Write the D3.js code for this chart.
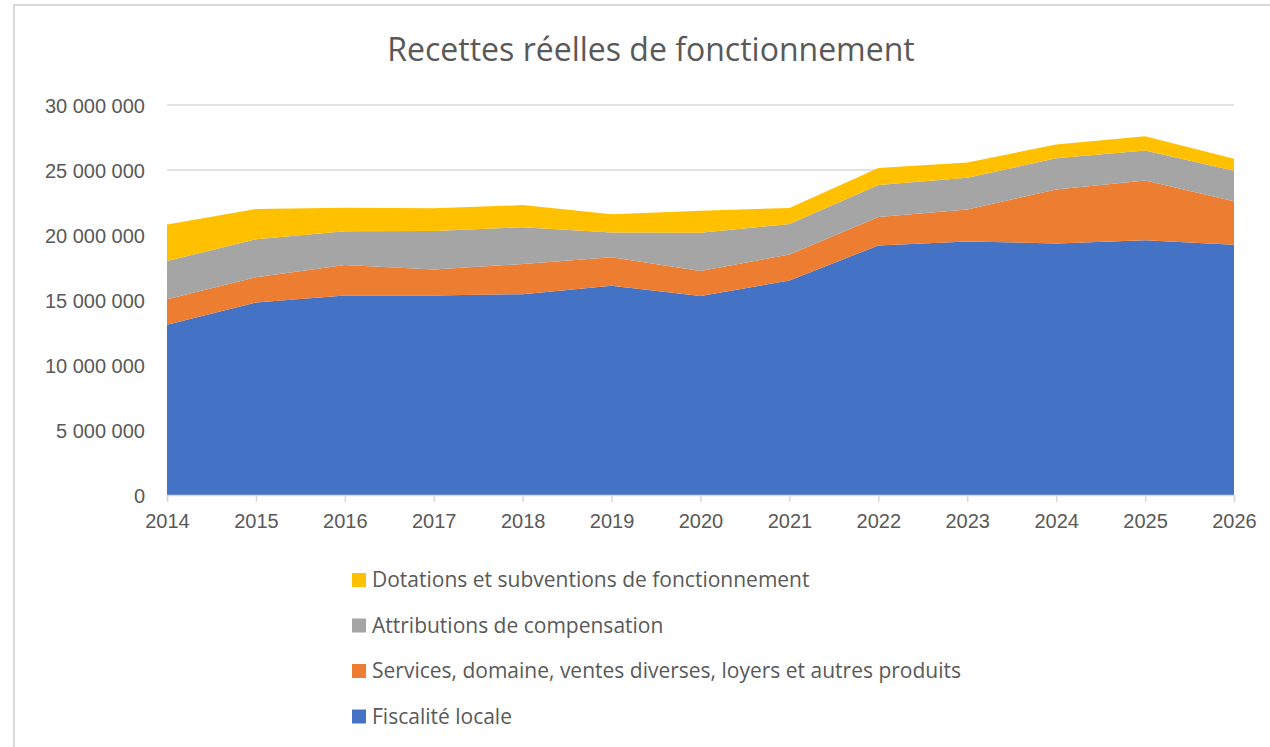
<!DOCTYPE html>
<html>
<head>
<meta charset="utf-8">
<script src="https://cdn.jsdelivr.net/npm/d3@7"></script>
<style>
  body { margin: 0; background: #fff; }
  svg { display: block; font-family: "Open Sans", sans-serif; }
  .grid line { stroke: #d9d9d9; stroke-width: 1.5; }
  .axis text { fill: #595959; font-size: 20px; }
  .legend text { fill: #595959; font-size: 21px; }
</style>
</head>
<body>
<svg id="chart" width="1270" height="747"></svg>
<script>
/* ── Data ─────────────────────────────────────────────── */
const years = [2014, 2015, 2016, 2017, 2018, 2019, 2020, 2021, 2022, 2023, 2024, 2025, 2026];

const fiscalite    = [13100000, 14800000, 15350000, 15350000, 15450000, 16100000, 15300000, 16500000, 19200000, 19500000, 19350000, 19600000, 19250000];
const services     = [1950000, 1950000, 2350000, 2000000, 2320000, 2180000, 1930000, 2000000, 2180000, 2470000, 4150000, 4600000, 3350000];
const attributions = [2950000, 2920000, 2580000, 2950000, 2830000, 1920000, 2950000, 2350000, 2470000, 2430000, 2400000, 2300000, 2350000];
const dotations    = [2800000, 2330000, 1820000, 1750000, 1700000, 1400000, 1690000, 1230000, 1300000, 1170000, 1070000, 1100000, 920000];

const seriesKeys   = ['fiscalite', 'services', 'attributions', 'dotations'];
const seriesNames  = ['Fiscalité locale', 'Services, domaine, ventes diverses, loyers et autres produits', 'Attributions de compensation', 'Dotations et subventions de fonctionnement'];
const seriesColors = ['#4472c4', '#ed7d31', '#a5a5a5', '#ffc000'];

const yTicks = [0, 5000000, 10000000, 15000000, 20000000, 25000000, 30000000];

/* ── Setup ────────────────────────────────────────────── */
const svg = d3.select('#chart');
const plot = { left: 167, right: 1234, top: 105, bottom: 495 };

const x = d3.scaleLinear().domain([2014, 2026]).range([plot.left, plot.right]);
const y = d3.scaleLinear().domain([0, 30000000]).range([plot.bottom, plot.top]);

const rows = years.map((yr, i) => ({
  year: yr,
  fiscalite: fiscalite[i],
  services: services[i],
  attributions: attributions[i],
  dotations: dotations[i]
}));

const stacked = d3.stack().keys(seriesKeys)(rows);

/* ── Frame ────────────────────────────────────────────── */
svg.append('path')
  .attr('d', 'M14,760 L14,5 L1280,5')
  .attr('fill', 'none')
  .attr('stroke', '#d9d9d9')
  .attr('stroke-width', 2);

/* ── Title ────────────────────────────────────────────── */
svg.append('text')
  .attr('x', 651).attr('y', 61)
  .attr('text-anchor', 'middle')
  .attr('fill', '#595959')
  .style('font-size', '32px')
  .text('Recettes réelles de fonctionnement');

/* ── Gridlines ────────────────────────────────────────── */
svg.append('g').attr('class', 'grid')
  .selectAll('line')
  .data(yTicks.filter(d => d > 0))
  .join('line')
  .attr('x1', plot.left).attr('x2', plot.right)
  .attr('y1', d => y(d)).attr('y2', d => y(d));

/* ── Areas ────────────────────────────────────────────── */
const area = d3.area()
  .x(d => x(d.data.year))
  .y0(d => y(d[0]))
  .y1(d => y(d[1]));

svg.append('g')
  .selectAll('path')
  .data(stacked)
  .join('path')
  .attr('fill', (d, i) => seriesColors[i])
  .attr('d', area);

/* ── Axes ─────────────────────────────────────────────── */
const fmt = v => d3.format(',')(v).replace(/,/g, ' ');

const yAxis = svg.append('g').attr('class', 'axis')
  .attr('transform', `translate(${plot.left - 22},0)`)
  .call(d3.axisLeft(y).tickValues(yTicks).tickFormat(fmt).tickSize(0).tickPadding(0));
yAxis.select('.domain').remove();
yAxis.selectAll('text').attr('dy', '0.35em');

const xAxis = svg.append('g').attr('class', 'axis')
  .attr('transform', `translate(0,${plot.bottom})`)
  .call(d3.axisBottom(x).tickValues(years).tickFormat(d3.format('d')).tickSize(7).tickPadding(12));
xAxis.select('.domain').attr('stroke', '#d9d9d9').attr('stroke-width', 1.5);
xAxis.selectAll('.tick line').attr('stroke', '#d9d9d9').attr('stroke-width', 1.5);

/* ── Legend (reverse order, top = last series) ────────── */
const legendRows = d3.range(seriesKeys.length).reverse();
const legend = svg.append('g').attr('class', 'legend')
  .selectAll('g')
  .data(legendRows)
  .join('g')
  .attr('transform', (d, i) => `translate(352,${580 + i * 45.5})`);

legend.append('rect')
  .attr('x', 0).attr('y', -7)
  .attr('width', 14).attr('height', 14)
  .attr('fill', d => seriesColors[d]);

legend.append('text')
  .attr('x', 20).attr('y', 0)
  .attr('dy', '0.35em')
  .text(d => seriesNames[d]);
</script>
</body>
</html>
